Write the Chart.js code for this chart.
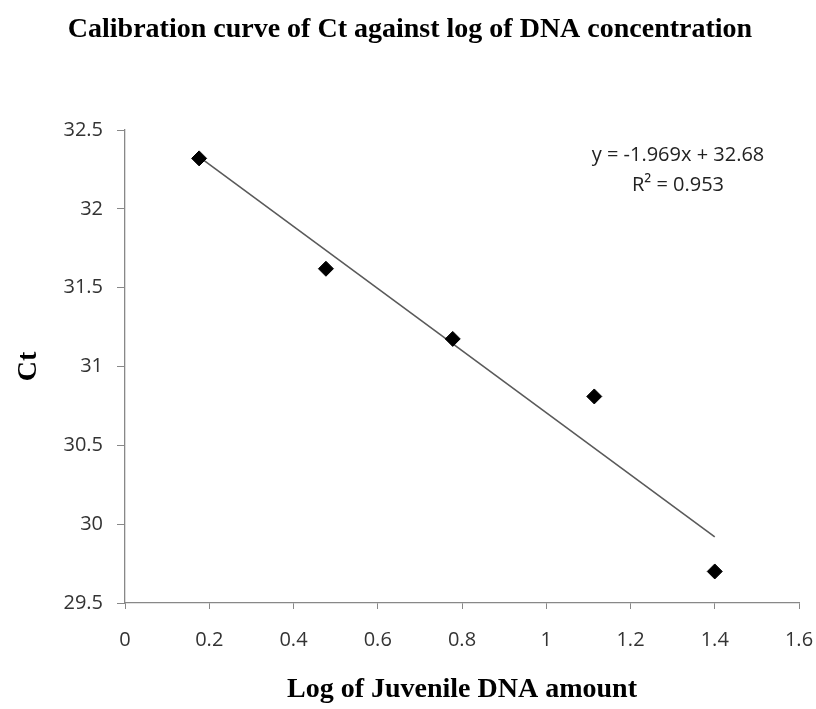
<!DOCTYPE html>
<html>
<head>
<meta charset="utf-8">
<script src="https://cdn.jsdelivr.net/npm/chart.js"></script>
<style>
  body { margin: 0; background: #fff; }
  #wrap { width: 816px; height: 709px; }
</style>
</head>
<body>
<div id="wrap"><canvas id="myChart" width="816" height="709"></canvas></div>
<script>
// data
let logAmount = [0.176, 0.477, 0.778, 1.114, 1.4];
let ctValues = [32.32, 31.62, 31.175, 30.81, 29.70];

// trend line end points (as drawn)
let trendX = [0.176, 1.4];
let trendY = [32.33, 29.92];

let equationText = "y = -1.969x + 32.68";
let r2Text = "R\u00b2 = 0.953";
let chartTitle = "Calibration curve of Ct against log of DNA concentration";

let pointsData = logAmount.map((x, i) => ({ x: x, y: ctValues[i] }));
let trendData = trendX.map((x, i) => ({ x: x, y: trendY[i] }));

// title + equation drawn on top
let textPlugin = {
    id: 'textPlugin',
    afterDraw(chart) {
        let ctx = chart.ctx;
        ctx.save();
        ctx.fillStyle = '#000';
        ctx.font = 'bold 28px "Liberation Serif"';
        ctx.textAlign = 'center';
        ctx.textBaseline = 'middle';
        ctx.fillText(chartTitle, 410, 30);

        ctx.fillStyle = '#222';
        ctx.font = '20px "Open Sans"';
        ctx.fillText(equationText, 678, 155);
        ctx.fillText(r2Text, 678, 185);
        ctx.restore();
    }
};

let myChart = document.getElementById('myChart').getContext('2d');

var calChart = new Chart(myChart, {
    type: 'scatter',
    data: {
        datasets: [
            {
                data: trendData,
                showLine: true,
                borderColor: '#5a5a5a',
                borderWidth: 1.6,
                pointRadius: 0,
                order: 2
            },
            {
                data: pointsData,
                pointStyle: 'rectRot',
                pointRadius: 7.5,
                backgroundColor: '#000',
                borderColor: '#000',
                borderWidth: 1,
                order: 1
            }
        ]
    },
    options: {
        responsive: false,
        animation: false,
        layout: { padding: { top: 130, right: 17, left: 0, bottom: 0 } },
        plugins: {
            legend: { display: false },
            tooltip: { enabled: false }
        },
        scales: {
            x: {
                type: 'linear',
                min: 0,
                max: 1.6,
                afterFit: s => {
                    s.height = 106;
                    s.paddingLeft = 0;
                    s.paddingRight = 0;
                },
                border: { color: '#888', width: 1.3 },
                grid: { drawOnChartArea: false, drawTicks: true, tickLength: 6, color: '#888' },
                ticks: {
                    stepSize: 0.2,
                    padding: 19,
                    color: '#333',
                    font: { family: 'Open Sans', size: 20 },
                    callback: v => Math.round(v * 10) / 10
                },
                title: {
                    display: true,
                    text: 'Log of Juvenile DNA amount',
                    color: '#000',
                    font: { family: 'Liberation Serif', size: 28, weight: 'bold' },
                    padding: { top: 0, bottom: 2 }
                }
            },
            y: {
                type: 'linear',
                min: 29.5,
                max: 32.5,
                afterFit: s => {
                    s.width = 125;
                    s.paddingTop = 0;
                    s.paddingBottom = 0;
                },
                border: { color: '#888', width: 1.3 },
                grid: { drawOnChartArea: false, drawTicks: true, tickLength: 8, color: '#888' },
                ticks: {
                    stepSize: 0.5,
                    padding: 14,
                    color: '#333',
                    font: { family: 'Open Sans', size: 20 },
                    callback: v => Math.round(v * 10) / 10
                },
                title: {
                    display: true,
                    text: 'Ct',
                    color: '#000',
                    font: { family: 'Liberation Serif', size: 28, weight: 'bold' },
                    padding: { top: 12, bottom: 0 }
                }
            }
        }
    },
    plugins: [textPlugin]
});
</script>
</body>
</html>
